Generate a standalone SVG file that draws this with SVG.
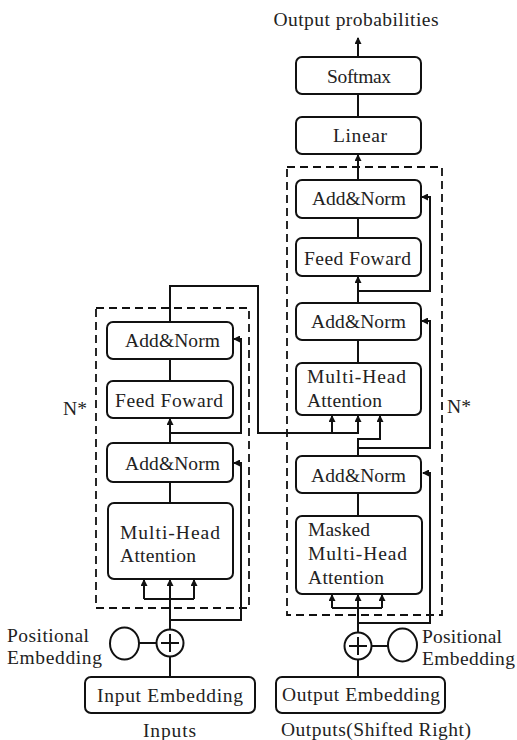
<svg xmlns="http://www.w3.org/2000/svg" width="517" height="740" viewBox="0 0 517 740">
<defs>
<marker id="arr" markerWidth="7" markerHeight="7" refX="6" refY="3.5" orient="auto" markerUnits="userSpaceOnUse"><path d="M0,0 L7,3.5 L0,7 z" fill="#111"/></marker>
<style>
.box{fill:#fff;stroke:#111;stroke-width:2}
.dash{fill:none;stroke:#111;stroke-width:1.8;stroke-dasharray:8 5}
.ln{fill:none;stroke:#111;stroke-width:2}
.ar{fill:none;stroke:#111;stroke-width:2;marker-end:url(#arr)}
.t{font-family:"Liberation Serif","Times New Roman",serif;font-size:19.5px;fill:#222}
.c{text-anchor:middle}
</style>
</defs>
<rect width="517" height="740" fill="#fff"/>

<g id="encoder-block">
<rect class="dash" x="96" y="308" width="153" height="300"/>
<text class="t" x="63" y="415" textLength="24" lengthAdjust="spacingAndGlyphs">N*</text>
</g>
<g id="decoder-block">
<rect class="dash" x="287" y="167" width="155" height="448"/>
<text class="t" x="447" y="413" textLength="24" lengthAdjust="spacingAndGlyphs">N*</text>
</g>

<g id="connectors">
<!-- decoder top -->
<path class="ar" d="M358,57 V38"/>
<path class="ln" d="M358,117 V94"/>
<path class="ar" d="M358,180 V155"/>
<path class="ln" d="M358,238 V218"/>
<path class="ar" d="M358,303 V277"/>
<path class="ar" d="M358,291 H430 V197 H422"/>
<path class="ln" d="M358,363 V340"/>
<!-- encoder output to decoder -->
<path class="ar" d="M170,322 V286 H258 V433 H358 V416"/>
<path class="ar" d="M332,433 V416"/>
<path class="ar" d="M358,456 V439 H380 V416"/>
<path class="ar" d="M358,448 H430 V321 H422"/>
<path class="ln" d="M358,516 V493"/>
<path class="ar" d="M358,633 V595"/>
<path class="ln" d="M332,608 H382"/>
<path class="ar" d="M332,608 V595"/>
<path class="ar" d="M382,608 V595"/>
<path class="ar" d="M358,623 H430 V473 H423"/>
<path class="ln" d="M371.5,646 H388"/>
<path class="ln" d="M358,677 V659.5"/>
<!-- encoder -->
<path class="ln" d="M170,381 V359"/>
<path class="ar" d="M170,443 V419"/>
<path class="ar" d="M170,433 H241 V339 H234"/>
<path class="ln" d="M170,503 V482"/>
<path class="ar" d="M170,630 V580"/>
<path class="ln" d="M144,599 H194"/>
<path class="ar" d="M144,599 V580"/>
<path class="ar" d="M194,599 V580"/>
<path class="ar" d="M170,620 H241 V463 H234"/>
<path class="ln" d="M139,643 H156.5"/>
<path class="ln" d="M170,677 V656.5"/>
</g>

<text id="output-probabilities" class="t c" x="356" y="26" textLength="165" lengthAdjust="spacing">Output probabilities</text>

<g id="softmax">
<rect class="box" x="296" y="57" width="125" height="37" rx="6"/>
<text class="t c" x="359" y="83" textLength="64" lengthAdjust="spacing">Softmax</text>
</g>
<g id="linear">
<rect class="box" x="296" y="117" width="125" height="37" rx="6"/>
<text class="t c" x="360" y="142" textLength="54" lengthAdjust="spacing">Linear</text>
</g>
<g id="dec-addnorm-3">
<rect class="box" x="296" y="180" width="125" height="38" rx="6"/>
<text class="t c" x="359" y="205" textLength="94" lengthAdjust="spacing">Add&amp;Norm</text>
</g>
<g id="dec-feedforward">
<rect class="box" x="296" y="238" width="125" height="38" rx="6"/>
<text class="t c" x="357.5" y="265" textLength="107" lengthAdjust="spacing">Feed Foward</text>
</g>
<g id="dec-addnorm-2">
<rect class="box" x="296" y="303" width="125" height="37" rx="6"/>
<text class="t c" x="358.5" y="328" textLength="95" lengthAdjust="spacing">Add&amp;Norm</text>
</g>
<g id="dec-multihead">
<rect class="box" x="296" y="363" width="125" height="52" rx="6"/>
<text class="t" x="307" y="383" textLength="99" lengthAdjust="spacing">Multi-Head</text>
<text class="t" x="307" y="407" textLength="75" lengthAdjust="spacing">Attention</text>
</g>
<g id="dec-addnorm-1">
<rect class="box" x="296" y="456" width="125" height="37" rx="6"/>
<text class="t c" x="358.5" y="482" textLength="95" lengthAdjust="spacing">Add&amp;Norm</text>
</g>
<g id="dec-masked-multihead">
<rect class="box" x="296" y="516" width="126" height="78" rx="6"/>
<text class="t" x="308" y="536" textLength="62" lengthAdjust="spacing">Masked</text>
<text class="t" x="308" y="560" textLength="99" lengthAdjust="spacing">Multi-Head</text>
<text class="t" x="308" y="584" textLength="76" lengthAdjust="spacing">Attention</text>
</g>
<g id="dec-add">
<circle cx="358" cy="646" r="13.5" fill="#fff" stroke="#111" stroke-width="2"/>
<path class="ln" d="M349,646 H367 M358,637 V655"/>
</g>
<g id="dec-positional">
<ellipse cx="402.5" cy="645" rx="14.5" ry="16.5" fill="#fff" stroke="#111" stroke-width="2"/>
<text class="t" x="422" y="643" textLength="80" lengthAdjust="spacing">Positional</text>
<text class="t" x="422" y="665" textLength="93" lengthAdjust="spacing">Embedding</text>
</g>
<g id="output-embedding">
<rect class="box" x="276" y="677" width="169" height="36" rx="6"/>
<text class="t c" x="361" y="701" textLength="158" lengthAdjust="spacing">Output Embedding</text>
</g>
<text id="outputs-label" class="t c" x="376" y="736" textLength="190" lengthAdjust="spacing">Outputs(Shifted Right)</text>

<g id="enc-addnorm-2">
<rect class="box" x="107" y="322" width="126" height="37" rx="6"/>
<text class="t c" x="172.5" y="347" textLength="95" lengthAdjust="spacing">Add&amp;Norm</text>
</g>
<g id="enc-feedforward">
<rect class="box" x="107" y="381" width="126" height="37" rx="6"/>
<text class="t c" x="169" y="407" textLength="108" lengthAdjust="spacing">Feed Foward</text>
</g>
<g id="enc-addnorm-1">
<rect class="box" x="107" y="443" width="126" height="39" rx="6"/>
<text class="t c" x="172.5" y="469.5" textLength="95" lengthAdjust="spacing">Add&amp;Norm</text>
</g>
<g id="enc-multihead">
<rect class="box" x="108" y="503" width="125" height="76" rx="6"/>
<text class="t" x="120" y="539" textLength="100" lengthAdjust="spacing">Multi-Head</text>
<text class="t" x="120" y="562" textLength="76" lengthAdjust="spacing">Attention</text>
</g>
<g id="enc-add">
<circle cx="170" cy="643" r="13.5" fill="#fff" stroke="#111" stroke-width="2"/>
<path class="ln" d="M161,643 H179 M170,634 V652"/>
</g>
<g id="enc-positional">
<ellipse cx="124.5" cy="643.5" rx="14.5" ry="16" fill="#fff" stroke="#111" stroke-width="2"/>
<text class="t" x="7" y="642" textLength="82" lengthAdjust="spacing">Positional</text>
<text class="t" x="7" y="664" textLength="95" lengthAdjust="spacing">Embedding</text>
</g>
<g id="input-embedding">
<rect class="box" x="85" y="677" width="170" height="36" rx="6"/>
<text class="t c" x="170" y="702" textLength="146" lengthAdjust="spacing">Input Embedding</text>
</g>
<text id="inputs-label" class="t c" x="169.5" y="737" textLength="53" lengthAdjust="spacing">Inputs</text>
</svg>
